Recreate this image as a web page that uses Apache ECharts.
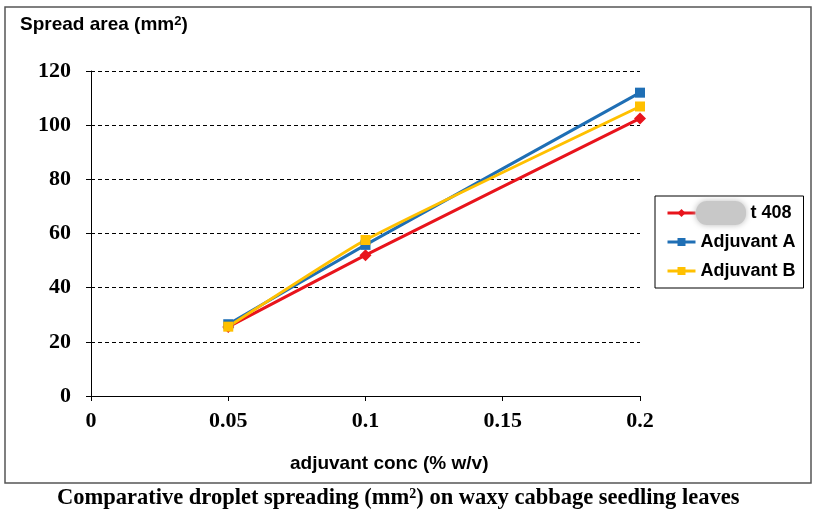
<!DOCTYPE html>
<html>
<head>
<meta charset="utf-8">
<script src="https://cdn.jsdelivr.net/npm/echarts@6/dist/echarts.min.js"></script>
<style>html,body{margin:0;padding:0;background:#fff}#c{width:815px;height:513px}</style>
</head>
<body>
<div id="c"></div>
<script>
const xValues = [0.05, 0.1, 0.2];
const seriesNames = ['          t 408', 'Adjuvant A', 'Adjuvant B'];
const series408 = [25.5, 52, 102.5];
const seriesA = [26.5, 55.8, 112];
const seriesB = [25.6, 57.6, 106.9];
const yTicks = [0, 20, 40, 60, 80, 100, 120];
const xTicks = [0, 0.05, 0.1, 0.15, 0.2];

const chart = echarts.init(document.getElementById('c'));
const pair = arr => xValues.map((x, i) => [x, arr[i]]);
const serif = 'Liberation Serif, Times New Roman, serif';
const sans = 'Liberation Sans, Arial, sans-serif';

chart.setOption({
  animation: false,
  backgroundColor: '#fff',
  grid: { left: 91, right: 175, top: 71, bottom: 117 },
  xAxis: {
    type: 'value', min: xTicks[0], max: xTicks[xTicks.length - 1], interval: 0.05,
    axisLine: { lineStyle: { color: '#000', width: 1 } },
    axisTick: { show: true, length: 5, lineStyle: { color: '#000' } },
    axisLabel: { color: '#000', fontFamily: serif, fontWeight: 'bold', fontSize: 22, margin: 14 },
    splitLine: { show: false }
  },
  yAxis: {
    type: 'value', min: yTicks[0], max: yTicks[yTicks.length - 1], interval: 20,
    axisLine: { show: true, lineStyle: { color: '#000', width: 1 } },
    axisTick: { show: true, length: 5, lineStyle: { color: '#000' } },
    axisLabel: { color: '#000', fontFamily: serif, fontWeight: 'bold', fontSize: 22, margin: 20 },
    splitLine: { show: true, lineStyle: { color: '#000', type: [4, 3], width: 1 } }
  },
  legend: {
    orient: 'vertical', left: 655, top: 196,
    itemGap: 11, itemWidth: 28, itemHeight: 10,
    padding: [8, 8, 8, 11],
    borderColor: '#000', borderWidth: 1,
    lineStyle: { width: 3 },
    textStyle: { fontFamily: sans, fontWeight: 'bold', fontSize: 18, color: '#000' },
    data: seriesNames
  },
  series: [
    { name: seriesNames[0], type: 'line', data: pair(series408), smooth: 0.15,
      symbol: 'diamond', symbolSize: 12, color: '#E8141C', lineStyle: { width: 3 } },
    { name: seriesNames[1], type: 'line', data: pair(seriesA), smooth: 0.15,
      symbol: 'rect', symbolSize: 10, color: '#1F6FB5', lineStyle: { width: 3 } },
    { name: seriesNames[2], type: 'line', data: pair(seriesB), smooth: 0.15,
      symbol: 'rect', symbolSize: 10, color: '#FFC000', lineStyle: { width: 3 } }
  ],
  graphic: [
    { type: 'rect', shape: { x: 5, y: 7, width: 806, height: 476 }, silent: true, z: -10,
      style: { fill: 'none', stroke: '#555', lineWidth: 1.5 } },
    { type: 'rect', shape: { x: 696, y: 201, width: 50, height: 24, r: 11 }, z: 100,
      style: { fill: '#c8c8c8', shadowBlur: 6, shadowColor: '#bbb' } },
    { type: 'text', left: 20, top: 15, z: 50,
      style: { text: 'Spread area (mm{s|2})', font: 'bold 19px ' + sans, fill: '#000',
        rich: { s: { fontSize: 13, fontWeight: 'bold', fontFamily: sans, padding: [0, 0, 7, 0] } } } },
    { type: 'text', left: 290, top: 454, z: 50,
      style: { text: 'adjuvant conc (% w/v)', font: 'bold 19px ' + sans, fill: '#000' } },
    { type: 'text', left: 57, top: 487, z: 50,
      style: { text: 'Comparative droplet spreading (mm{s|2}) on waxy cabbage seedling leaves', font: 'bold 22.5px ' + serif, fill: '#000',
        rich: { s: { fontSize: 14, fontWeight: 'bold', fontFamily: serif, padding: [0, 0, 9, 0] } } } }
  ]
});
</script>
</body>
</html>
